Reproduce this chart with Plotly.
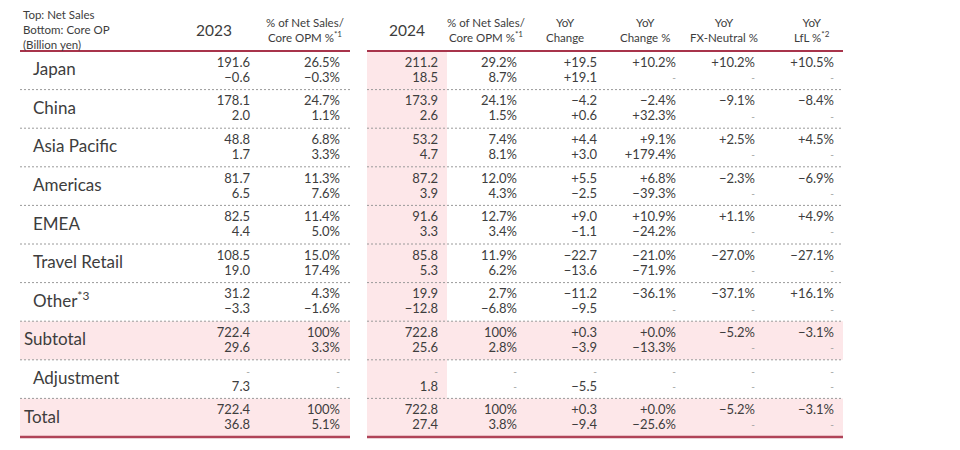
import plotly.graph_objects as go

# ---------------- data ----------------
regions = ["Japan", "China", "Asia Pacific", "Americas", "EMEA", "Travel Retail",
           "Other<sup>*3</sup>", "Subtotal", "Adjustment", "Total"]
sales_2023 = ["191.6", "178.1", "48.8", "81.7", "82.5", "108.5", "31.2", "722.4", "-", "722.4"]
op_2023 = ["−0.6", "2.0", "1.7", "6.5", "4.4", "19.0", "−3.3", "29.6", "7.3", "36.8"]
share_2023 = ["26.5%", "24.7%", "6.8%", "11.3%", "11.4%", "15.0%", "4.3%", "100%", "-", "100%"]
opm_2023 = ["−0.3%", "1.1%", "3.3%", "7.6%", "5.0%", "17.4%", "−1.6%", "3.3%", "-", "5.1%"]
sales_2024 = ["211.2", "173.9", "53.2", "87.2", "91.6", "85.8", "19.9", "722.8", "-", "722.8"]
op_2024 = ["18.5", "2.6", "4.7", "3.9", "3.3", "5.3", "−12.8", "25.6", "1.8", "27.4"]
share_2024 = ["29.2%", "24.1%", "7.4%", "12.0%", "12.7%", "11.9%", "2.7%", "100%", "-", "100%"]
opm_2024 = ["8.7%", "1.5%", "8.1%", "4.3%", "3.4%", "6.2%", "−6.8%", "2.8%", "-", "3.8%"]
yoy_sales = ["+19.5", "−4.2", "+4.4", "+5.5", "+9.0", "−22.7", "−11.2", "+0.3", "-", "+0.3"]
yoy_op = ["+19.1", "+0.6", "+3.0", "−2.5", "−1.1", "−13.6", "−9.5", "−3.9", "−5.5", "−9.4"]
yoypct_sales = ["+10.2%", "−2.4%", "+9.1%", "+6.8%", "+10.9%", "−21.0%", "−36.1%", "+0.0%", "-", "+0.0%"]
yoypct_op = ["-", "+32.3%", "+179.4%", "−39.3%", "−24.2%", "−71.9%", "-", "−13.3%", "-", "−25.6%"]
fx_sales = ["+10.2%", "−9.1%", "+2.5%", "−2.3%", "+1.1%", "−27.0%", "−37.1%", "−5.2%", "-", "−5.2%"]
fx_op = ["-"] * 10
lfl_sales = ["+10.5%", "−8.4%", "+4.5%", "−6.9%", "+4.9%", "−27.1%", "+16.1%", "−3.1%", "-", "−3.1%"]
lfl_op = ["-"] * 10

header_corner = "Top: Net Sales<br>Bottom: Core OP<br>(Billion yen)"
left_headers = ["2023", "% of Net Sales/<br>Core OPM %<sup>*1</sup>"]
right_headers = ["2024", "% of Net Sales/<br>Core OPM %<sup>*1</sup>", "YoY<br>Change",
                 "YoY<br>Change %", "YoY<br>FX-Neutral %", "YoY<br>LfL %<sup>*2</sup>"]
shaded_rows = ["Subtotal", "Total"]
outdented_rows = ["Subtotal", "Total"]

# ---------------- layout constants ----------------
FONT = "Lato"
TXT = "#3d3d3d"
RED = "#a8344b"
PINK = "#fde7e9"
DASHC = "#9a9a9a"
L0, L1 = 20, 350
R0, R1 = 367, 843
SHADE_COL = (367, 447)
TOP = 51
BOT = 437
RH = (BOT - TOP) / len(regions)
OFF = 8  # page body margin

left_cols = [(250, sales_2023, op_2023), (340, share_2023, opm_2023)]
left_hx = [214, 305]
right_cols = [(438, sales_2024, op_2024), (517, share_2024, opm_2024),
              (597, yoy_sales, yoy_op), (676, yoypct_sales, yoypct_op),
              (755, fx_sales, fx_op), (834, lfl_sales, lfl_op)]
right_hx = [407, 486, 565, 645, 724, 812]

fig = go.Figure()
shapes = []

# shading
shapes.append(dict(type="rect", x0=SHADE_COL[0], x1=SHADE_COL[1], y0=TOP, y1=BOT,
                   fillcolor=PINK, line_width=0, layer="below"))
for i, r in enumerate(regions):
    if r in shaded_rows:
        y0, y1 = TOP + i * RH, TOP + (i + 1) * RH
        for a, b in [(L0, L1), (R0, R1)]:
            shapes.append(dict(type="rect", x0=a, x1=b, y0=y0, y1=y1,
                               fillcolor=PINK, line_width=0, layer="below"))

# dashed separators
for i in range(1, len(regions)):
    y = TOP + i * RH
    for a, b in [(L0, L1), (R0, R1)]:
        shapes.append(dict(type="line", x0=a, x1=b, y0=y, y1=y,
                           line=dict(color=DASHC, width=1, dash="2px,2px")))

# red rules
for a, b in [(L0, L1), (R0, R1)]:
    shapes.append(dict(type="line", x0=a, x1=b, y0=TOP, y1=TOP, line=dict(color=RED, width=2)))
    shapes.append(dict(type="line", x0=a, x1=b, y0=BOT, y1=BOT, line=dict(color="#b04458", width=2.5)))


def add_col(x, top_vals, bot_vals):
    xs, ys, ts, cs, ss = [], [], [], [], []
    for i in range(len(regions)):
        base = TOP + i * RH
        for v, dy in [(top_vals[i], 12.5), (bot_vals[i], 27.5)]:
            xs.append(x)
            ys.append(base + dy)
            ts.append(v)
            if v == "-":
                cs.append("#9a9a9a")
                ss.append(10)
            else:
                cs.append(TXT)
                ss.append(13)
    fig.add_trace(go.Scatter(x=xs, y=ys, text=ts, mode="text", textposition="middle left",
                             textfont=dict(family=FONT, size=ss, color=cs),
                             hoverinfo="skip", showlegend=False))


for x, t, b in left_cols + right_cols:
    add_col(x, t, b)

# row labels
lx = [24 if r in outdented_rows else 33 for r in regions]
ly = [TOP + i * RH + 20 for i in range(len(regions))]
fig.add_trace(go.Scatter(x=lx, y=ly, text=regions, mode="text", textposition="middle right",
                         textfont=dict(family=FONT, size=17, color=TXT),
                         hoverinfo="skip", showlegend=False))

# headers
annots = [dict(x=21, y=29, text=header_corner, showarrow=False, xanchor="left", yanchor="middle",
               align="left", font=dict(family=FONT, size=11.5, color=TXT))]
for hx, h in zip(left_hx + right_hx, left_headers + right_headers):
    big = "<br>" not in h
    annots.append(dict(x=hx, y=30, text=h, showarrow=False, xanchor="center", yanchor="middle",
                       align="center", font=dict(family=FONT, size=15.5 if big else 11.5, color=TXT)))

W, H = 960 - 2 * OFF, 450 - 2 * OFF
fig.update_layout(
    width=W, height=H, margin=dict(l=0, r=0, t=0, b=0),
    paper_bgcolor="white", plot_bgcolor="white",
    xaxis=dict(range=[OFF, OFF + W], visible=False, fixedrange=True),
    yaxis=dict(range=[OFF + H, OFF], visible=False, fixedrange=True),
    shapes=shapes, annotations=annots,
)
fig.write_html("out.html")
